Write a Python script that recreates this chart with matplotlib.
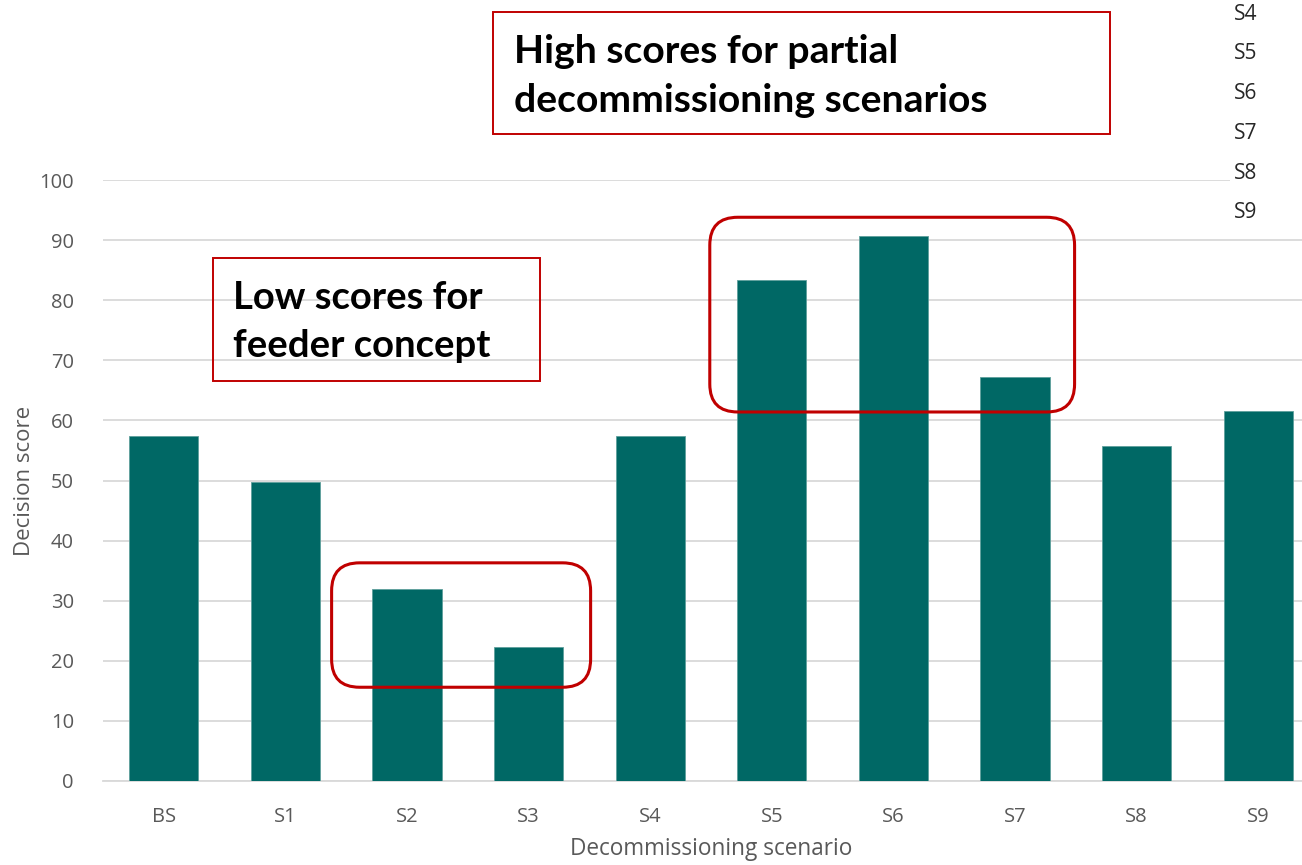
import matplotlib
matplotlib.use("Agg")
import matplotlib.pyplot as plt
from matplotlib.patches import Rectangle, FancyBboxPatch
from matplotlib.transforms import IdentityTransform

# decision scores per decommissioning scenario
scenarios = ["BS", "S1", "S2", "S3", "S4", "S5", "S6", "S7", "S8", "S9"]
scores = [57.4, 49.8, 31.9, 22.3, 57.4, 83.3, 90.7, 67.2, 55.7, 61.6]
yticks = [0, 10, 20, 30, 40, 50, 60, 70, 80, 90, 100]

W, H = 1302, 865
BAR = "#006865"
RED = "#C00000"
GREY = "#595959"
plt.rcParams['font.family'] = ['Open Sans', 'DejaVu Sans']
CALLOUT_FONT = ['Lato', 'DejaVu Sans']


def fx(px):
    return px / W


def fy(py):
    return 1 - py / H


fig = plt.figure(figsize=(W / 100, H / 100), dpi=100)
ax = fig.add_axes([fx(103), fy(781), 1216 / W, 601 / H])

x = list(range(len(scenarios)))
ax.bar(x, scores, width=0.57, color=BAR, edgecolor="#5e9f9c", linewidth=0.6, zorder=3)

ax.set_xlim(-0.5, len(scenarios) - 0.5)
ax.set_ylim(0, 100)
ax.set_yticks(yticks)
ax.set_xticks(x)
ax.set_xticklabels(scenarios)
ax.grid(axis="y", color="#d9d9d9", linewidth=1.3, zorder=0)
ax.set_axisbelow(True)
for s in ["top", "right", "left"]:
    ax.spines[s].set_visible(False)
ax.spines["bottom"].set_color("#d9d9d9")
ax.spines["bottom"].set_linewidth(1.3)
ax.tick_params(axis="both", length=0, labelsize=14.5, colors=GREY)
ax.tick_params(axis="x", pad=19)
ax.tick_params(axis="y", pad=21)
ax.set_ylabel("Decision score", fontsize=16, color=GREY, labelpad=3)
ax.set_xlabel("Decommissioning scenario", fontsize=16.3, color=GREY, labelpad=7)


# rounded highlight boxes around groups of bars, sized in data units
def highlight(x0, x1, y0, y1, r=28):
    (ax0, ay0) = ax.transData.transform((x0, y0))
    (ax1, ay1) = ax.transData.transform((x1, y1))
    box = FancyBboxPatch((ax0 + r, ay0 + r), ax1 - ax0 - 2 * r, ay1 - ay0 - 2 * r,
                         boxstyle=f"round,pad={r},rounding_size={r}",
                         transform=IdentityTransform(), fill=False,
                         edgecolor=RED, linewidth=2.2, zorder=5)
    fig.patches.append(box)


highlight(1.38, 3.51, 15.6, 36.3)
highlight(4.49, 7.49, 61.4, 93.8)

# callout text boxes
for (x0, y0, x1, y1) in [(213, 258, 540, 381), (493, 12, 1110, 134)]:
    fig.patches.append(Rectangle((fx(x0), fy(y1)), fx(x1 - x0), (y1 - y0) / H,
                                 transform=fig.transFigure, fill=False,
                                 edgecolor=RED, linewidth=1.4, zorder=5))

fig.text(fx(233), fy(322), "Low scores for\nfeeder concept", fontsize=27.5,
         fontweight="bold", family=CALLOUT_FONT, color="black",
         va="center", ha="left", linespacing=1.52)
fig.text(fx(514), fy(76), "High scores for partial\ndecommissioning scenarios",
         fontsize=28.2, fontweight="bold", family=CALLOUT_FONT, color="black",
         va="center", ha="left", linespacing=1.5)

# clipped legend remnants at the top right
fig.patches.append(Rectangle((fx(1230), fy(228)), fx(W - 1230), 228 / H,
                             transform=fig.transFigure, facecolor="white",
                             edgecolor="none", zorder=6))
for i, name in enumerate(scenarios[4:]):
    fig.text(fx(1234), fy(14 + 39.8 * i), name, fontsize=15, color="#262626",
             va="center", ha="left", zorder=7)

fig.savefig("out.png", dpi=100)
